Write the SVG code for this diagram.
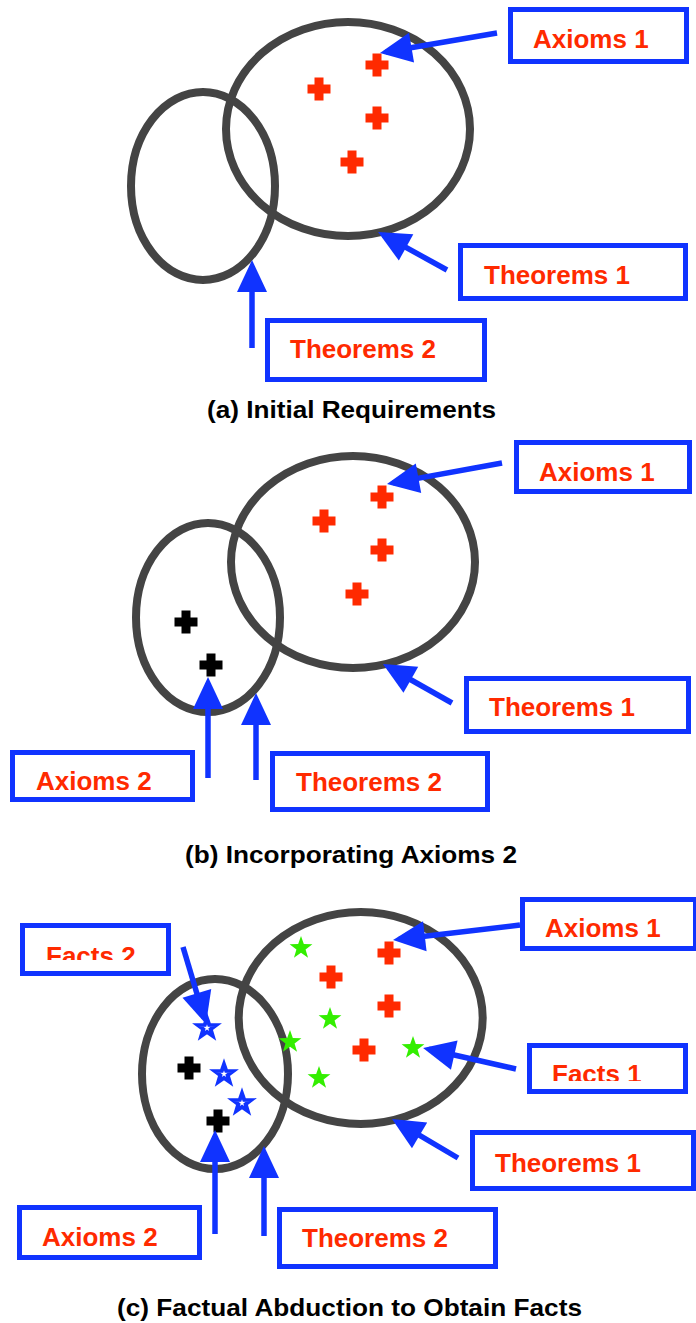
<svg xmlns="http://www.w3.org/2000/svg" xmlns:xlink="http://www.w3.org/1999/xlink" width="696" height="1323" viewBox="0 0 696 1323">
<style>
.set{fill:none;stroke:#444444;stroke-width:8}
.box{fill:#ffffff;stroke:#1033ff;stroke-width:5}
.lbl{font-family:"Liberation Sans",Arial,sans-serif;font-weight:bold;font-size:26px;fill:#ff2a00}
.cap{font-family:"Liberation Sans",Arial,sans-serif;font-weight:bold;font-size:24px;fill:#000000}
.arr{stroke:#1033ff;stroke-width:5.5;fill:none;marker-end:url(#head)}
.red{fill:#ff2a00}
.blk{fill:#000000}
.grn{fill:#33ee00}
.bst{fill:#ffffff;stroke:#1033ff;stroke-width:5}
</style>
<defs>
<marker id="head" viewBox="-30 -16 40 32" refX="0" refY="0" markerWidth="40" markerHeight="32" markerUnits="userSpaceOnUse" orient="auto" overflow="visible">
<path d="M6,0 L-26,-15 L-26,15 Z" fill="#1033ff"/>
</marker>
<path id="cross" d="M-4.5,-11.5 h9 v7 h7 v9 h-7 v7 h-9 v-7 h-7 v-9 h7 z"/>
<path id="star" d="M0,-12 L2.82,-3.88 L11.41,-3.71 L4.56,1.48 L7.05,9.71 L0,4.8 L-7.05,9.71 L-4.56,1.48 L-11.41,-3.71 L-2.82,-3.88 Z"/>
<clipPath id="clipF2"><rect x="0" y="900" width="200" height="60"/></clipPath>
<clipPath id="clipF1"><rect x="500" y="1040" width="196" height="41"/></clipPath>
</defs>

<!-- Panel (a) -->
<g id="a-sets">
<ellipse class="set" cx="348" cy="129" rx="122" ry="107"/>
<ellipse class="set" cx="203" cy="186" rx="72" ry="94"/>
</g>
<g id="a-points">
<use href="#cross" class="red" x="377" y="65"/>
<use href="#cross" class="red" x="319" y="89"/>
<use href="#cross" class="red" x="377" y="118"/>
<use href="#cross" class="red" x="352" y="162"/>
</g>
<g id="a-axioms1"><rect class="box" x="510.5" y="9.5" width="176" height="52"/><text class="lbl" x="533" y="48">Axioms 1</text></g>
<g id="a-theorems1"><rect class="box" x="460.5" y="245.5" width="225" height="53"/><text class="lbl" x="484" y="284">Theorems 1</text></g>
<g id="a-theorems2"><rect class="box" x="267.5" y="320.5" width="217" height="59"/><text class="lbl" x="290" y="358">Theorems 2</text></g>
<g id="a-caption"><text class="cap" x="207" y="418" textLength="289" lengthAdjust="spacingAndGlyphs">(a) Initial Requirements</text></g>

<!-- Panel (b) -->
<g id="b-sets">
<ellipse class="set" cx="353" cy="562" rx="122" ry="106"/>
<ellipse class="set" cx="208" cy="617.5" rx="72" ry="94.5"/>
</g>
<g id="b-points">
<use href="#cross" class="red" x="382" y="497"/>
<use href="#cross" class="red" x="324" y="521"/>
<use href="#cross" class="red" x="382" y="550"/>
<use href="#cross" class="red" x="357" y="594"/>
<use href="#cross" class="blk" x="186" y="622"/>
<use href="#cross" class="blk" x="211" y="665"/>
</g>
<g id="b-axioms1"><rect class="box" x="516.5" y="442.5" width="173" height="49"/><text class="lbl" x="539" y="481">Axioms 1</text></g>
<g id="b-theorems1"><rect class="box" x="466.5" y="678.5" width="222" height="53"/><text class="lbl" x="489" y="716">Theorems 1</text></g>
<g id="b-axioms2"><rect class="box" x="12.5" y="752.5" width="180" height="47"/><text class="lbl" x="36" y="790">Axioms 2</text></g>
<g id="b-theorems2"><rect class="box" x="272.5" y="753.5" width="215" height="56"/><text class="lbl" x="296" y="791">Theorems 2</text></g>
<g id="b-caption"><text class="cap" x="185" y="863" textLength="332" lengthAdjust="spacingAndGlyphs">(b) Incorporating Axioms 2</text></g>

<!-- Panel (c) -->
<g id="c-sets">
<ellipse class="set" cx="360.7" cy="1018" rx="122" ry="106"/>
<ellipse class="set" cx="215" cy="1074" rx="73" ry="95"/>
</g>
<g id="c-points">
<use href="#cross" class="red" x="389" y="953"/>
<use href="#cross" class="red" x="331" y="977"/>
<use href="#cross" class="red" x="389" y="1006"/>
<use href="#cross" class="red" x="364" y="1050"/>
<use href="#cross" class="blk" x="189" y="1068"/>
<use href="#cross" class="blk" x="218" y="1121"/>
<use href="#star" class="grn" x="301" y="948"/>
<use href="#star" class="grn" x="330" y="1019"/>
<use href="#star" class="grn" x="290" y="1042"/>
<use href="#star" class="grn" x="319" y="1078"/>
<use href="#star" class="grn" x="413" y="1048"/>
<use href="#star" class="bst" transform="translate(207 1028) scale(0.8)"/>
<use href="#star" class="bst" transform="translate(224 1074) scale(0.8)"/>
<use href="#star" class="bst" transform="translate(242 1103) scale(0.8)"/>
</g>
<g id="c-axioms1"><rect class="box" x="522.5" y="899.5" width="173" height="49"/><text class="lbl" x="545" y="937">Axioms 1</text></g>
<g id="c-facts2"><rect class="box" x="22.5" y="925.5" width="146" height="48"/><text class="lbl" x="46" y="965" clip-path="url(#clipF2)">Facts 2</text></g>
<g id="c-facts1"><rect class="box" x="529.5" y="1045.5" width="156" height="46"/><text class="lbl" x="552" y="1083" clip-path="url(#clipF1)">Facts 1</text></g>
<g id="c-theorems1"><rect class="box" x="472.5" y="1132.5" width="221" height="56"/><text class="lbl" x="495" y="1172">Theorems 1</text></g>
<g id="c-axioms2"><rect class="box" x="19.5" y="1207.5" width="180" height="50"/><text class="lbl" x="42" y="1246">Axioms 2</text></g>
<g id="c-theorems2"><rect class="box" x="279.5" y="1209.5" width="216" height="57"/><text class="lbl" x="302" y="1247">Theorems 2</text></g>
<g id="c-caption"><text class="cap" x="117" y="1316" textLength="465" lengthAdjust="spacingAndGlyphs">(c) Factual Abduction to Obtain Facts</text></g>

<!-- Connectors -->
<g id="connectors">
<line class="arr" x1="497" y1="33" x2="385.9" y2="52"/>
<line class="arr" x1="447" y1="270" x2="383.3" y2="234.9"/>
<line class="arr" x1="252" y1="348" x2="252" y2="266"/>
<line class="arr" x1="502" y1="463" x2="392.9" y2="482.9"/>
<line class="arr" x1="452" y1="703" x2="388.2" y2="667"/>
<line class="arr" x1="208" y1="778" x2="208" y2="683"/>
<line class="arr" x1="256" y1="780" x2="256" y2="699"/>
<line class="arr" x1="520" y1="925" x2="399" y2="939.3"/>
<line class="arr" x1="183" y1="947" x2="204.3" y2="1018.3"/>
<line class="arr" x1="516" y1="1069" x2="428.9" y2="1049.3"/>
<line class="arr" x1="458" y1="1158" x2="397.2" y2="1122.1"/>
<line class="arr" x1="215" y1="1234" x2="215" y2="1136"/>
<line class="arr" x1="264" y1="1236" x2="264" y2="1152"/>
</g>
</svg>
